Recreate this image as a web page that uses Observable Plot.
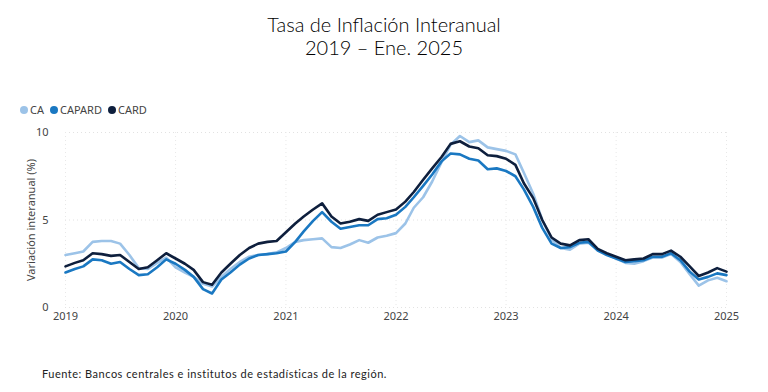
<!DOCTYPE html>
<html>
<head>
<meta charset="utf-8">
<script src="https://cdn.jsdelivr.net/npm/d3@7"></script>
<script src="https://cdn.jsdelivr.net/npm/@observablehq/plot@0.6"></script>
<style>
  body { margin:0; background:#fff; }
  #wrap { position:relative; width:768px; height:392px; overflow:hidden; background:#fff; }
  #title { position:absolute; top:13px; left:0; width:768px; text-align:center; font:300 20px/23px Lato, "DejaVu Sans", sans-serif; color:#000; }
  #legend { position:absolute; top:102px; left:20px; font:11px "Noto Sans", sans-serif; color:#444; display:flex; gap:4px; align-items:center; }
  #legend span.item { display:flex; align-items:center; margin-right:2px; }
  #legend i { display:inline-block; width:8px; height:8px; border-radius:50%; margin-right:2px; }
  #chart { position:absolute; top:120px; left:0; }
  #caption { position:absolute; top:367px; left:42px; font:11px Lato, "DejaVu Sans", sans-serif; color:#222; letter-spacing:0.5px; }
</style>
</head>
<body>
<div id="wrap">
  <div id="title">Tasa de Inflación Interanual<br>2019 – Ene. 2025</div>
  <div id="legend"></div>
  <div id="chart"></div>
  <div id="caption">Fuente: Bancos centrales e institutos de estadísticas de la región.</div>
</div>
<script>
const seriesNames = ["CA", "CAPARD", "CARD"];
const seriesColors = ["#9cc3e8", "#1a78c2", "#0e1f3d"];
const yTicks = [0, 5, 10];
const xTickYears = [2019, 2020, 2021, 2022, 2023, 2024, 2025];
const firstMonth = [2019, 0];

const CA = [3.0,3.1,3.2,3.75,3.8,3.8,3.65,3.0,2.25,2.2,2.55,2.85,
  2.3,2.0,1.75,1.35,1.2,1.75,2.2,2.6,2.9,3.0,3.05,3.15,
  3.4,3.75,3.85,3.9,3.95,3.45,3.4,3.6,3.85,3.7,4.0,4.1,
  4.25,4.8,5.7,6.3,7.2,8.3,9.3,9.8,9.45,9.55,9.15,9.05,
  8.95,8.75,7.7,6.5,5.0,3.9,3.4,3.3,3.65,3.7,3.3,3.05,
  2.8,2.55,2.5,2.65,2.85,2.85,3.05,2.6,1.9,1.25,1.55,1.7,
  1.5];
const CAPARD = [2.0,2.2,2.35,2.75,2.7,2.5,2.6,2.2,1.85,1.9,2.3,2.75,
  2.5,2.15,1.75,1.05,0.8,1.6,2.0,2.45,2.8,3.0,3.05,3.1,
  3.2,3.75,4.35,4.95,5.45,4.9,4.5,4.6,4.7,4.7,5.05,5.1,
  5.3,5.75,6.3,6.95,7.6,8.35,8.8,8.75,8.5,8.4,7.9,7.95,
  7.8,7.5,6.75,5.75,4.55,3.65,3.4,3.45,3.7,3.75,3.25,3.0,
  2.8,2.6,2.65,2.7,2.9,2.9,3.1,2.7,2.05,1.6,1.75,1.95,
  1.85];
const CARD = [2.35,2.55,2.7,3.1,3.05,2.95,3.0,2.6,2.2,2.3,2.7,3.1,
  2.8,2.5,2.15,1.45,1.3,2.0,2.5,3.0,3.4,3.65,3.75,3.8,
  4.3,4.8,5.2,5.6,5.95,5.2,4.8,4.9,5.05,4.95,5.3,5.45,
  5.6,6.05,6.6,7.3,7.95,8.6,9.35,9.5,9.2,9.1,8.7,8.65,
  8.5,8.15,7.1,6.25,5.0,4.0,3.65,3.55,3.85,3.9,3.35,3.1,
  2.9,2.7,2.75,2.8,3.05,3.05,3.25,2.9,2.35,1.8,2.0,2.25,
  2.05];

const seriesValues = [CA, CAPARD, CARD];
const rows = [];
seriesValues.forEach((vals, s) => {
  vals.forEach((v, i) => {
    rows.push({serie: seriesNames[s], date: new Date(firstMonth[0], firstMonth[1] + i, 1), value: v});
  });
});

const legend = document.getElementById("legend");
seriesNames.forEach((n, i) => {
  const el = document.createElement("span");
  el.className = "item";
  el.innerHTML = `<i style="background:${seriesColors[i]}"></i>${n}`;
  legend.appendChild(el);
});

const chart = Plot.plot({
  width: 768,
  height: 210,
  marginTop: 12,
  marginBottom: 23,
  marginLeft: 65,
  marginRight: 42,
  style: {fontFamily: "'Noto Sans', sans-serif", fontSize: "11px", color: "#444", background: "#fff"},
  x: {type: "time", domain: [new Date(2019,0,1), new Date(2025,0,1)]},
  y: {domain: [0, 10]},
  color: {domain: seriesNames, range: seriesColors},
  marks: [
    Plot.gridY(yTicks, {stroke: "#e2e2e2", strokeOpacity: 1, strokeDasharray: "1,3"}),
    Plot.gridX(xTickYears.map(y => new Date(y,0,1)), {stroke: "#e8e8e8", strokeOpacity: 1, strokeDasharray: "1,3"}),
    Plot.axisY(yTicks, {tickSize: 0, tickPadding: 17, label: "Variación interanual (%)", labelAnchor: "center", labelArrow: "none", labelOffset: 38, fontSize: 11}),
    Plot.axisX(xTickYears.map(y => new Date(y,0,1)), {tickSize: 0, tickPadding: 5, tickFormat: d3.timeFormat("%Y"), label: null, fontSize: 11}),
    Plot.line(rows, {x: "date", y: "value", z: "serie", stroke: "serie", strokeWidth: 2.6, curve: "linear"})
  ]
});
document.getElementById("chart").appendChild(chart);
</script>
</body>
</html>
